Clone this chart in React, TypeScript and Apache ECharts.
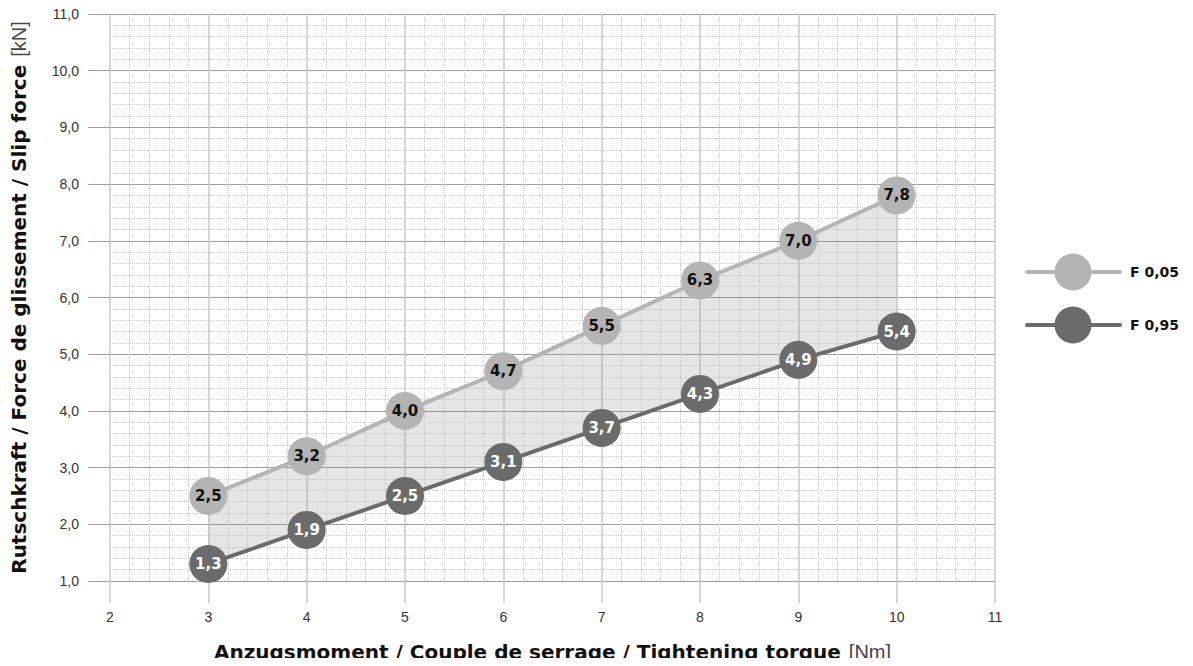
import React, { useEffect, useRef } from "react";
import * as echarts from "echarts";

const torque = [3, 4, 5, 6, 7, 8, 9, 10];
const f005 = [2.5, 3.2, 4.0, 4.7, 5.5, 6.3, 7.0, 7.8];
const f095 = [1.3, 1.9, 2.5, 3.1, 3.7, 4.3, 4.9, 5.4];
const seriesNames = ["F 0,05", "F 0,95"];
const xTitle = "Anzugsmoment / Couple de serrage / Tightening torque";
const xUnit = "[Nm]";
const yTitle = "Rutschkraft / Force de glissement / Slip force";
const yUnit = "[kN]";

const LIGHT = "#b4b4b4";
const DARK = "#6b6b6b";
const FONT = "Liberation Sans, Arial, sans-serif";
const BOLD = "DejaVu Sans, Liberation Sans, sans-serif";

const fmt = (v: number) => v.toFixed(1).replace(".", ",");

export default function App() {
  const ref = useRef<HTMLDivElement>(null);
  useEffect(() => {
    if (!ref.current) return;
    const chart = echarts.init(ref.current, undefined, { renderer: "svg" });
    const lowerPts = torque.map((x, i) => [x, f095[i]]);
    const upperPts = torque.map((x, i) => [x, f005[i]]);
    const bandData = torque.map((x, i) => [x, f095[i], f005[i]]);
    const legendY = [272, 325];
    const legendColors = [LIGHT, DARK];
    const graphic: any[] = [];
    seriesNames.forEach((n, i) => {
      graphic.push({
        type: "line",
        shape: { x1: 1027, y1: legendY[i], x2: 1120, y2: legendY[i] },
        style: { stroke: legendColors[i], lineWidth: 4, lineCap: "round" },
      });
      graphic.push({
        type: "circle",
        shape: { cx: 1073, cy: legendY[i], r: 18.5 },
        style: { fill: legendColors[i] },
      });
      graphic.push({
        type: "text",
        x: 1130,
        y: legendY[i],
        style: {
          text: n,
          fill: "#111",
          font: `bold 14px ${BOLD}`,
          verticalAlign: "middle",
        },
      });
    });
    const nameRich = {
      b: { fontSize: 20, fontWeight: "bold", color: "#111", fontFamily: BOLD },
      n: { fontSize: 20, color: "#444", fontFamily: FONT, padding: [0, 0, 0, 8] },
    };
    chart.setOption({
      animation: false,
      grid: { left: 110, right: 198, top: 14, bottom: 85, outerBoundsMode: "none", containLabel: false },
      textStyle: { fontFamily: FONT },
      xAxis: {
        type: "value",
        min: 2,
        max: 11,
        interval: 1,
        name: `{b|${xTitle}}{n|${xUnit}}`,
        nameLocation: "middle",
        nameGap: 61,
        nameTextStyle: { rich: nameRich },
        axisLine: { show: false },
        axisTick: { show: true, length: 22, lineStyle: { color: "#c8c8c8", width: 1.5 } },
        axisLabel: { margin: 29, fontSize: 14, color: "#333", fontFamily: FONT },
        splitLine: { show: true, lineStyle: { color: "#c8c8c8", width: 1.5 } },
        minorTick: { show: true, splitNumber: 5, length: 0, lineStyle: { opacity: 0 } },
        minorSplitLine: { show: true, lineStyle: { color: "#d0d0d0", type: [1, 1], width: 1 } },
      },
      yAxis: {
        type: "value",
        min: 1,
        max: 11,
        interval: 1,
        name: `{b|${yTitle}}{n|${yUnit}}`,
        nameLocation: "middle",
        nameGap: 81,
        nameRotate: 90,
        nameTextStyle: { rich: nameRich },
        axisLine: { show: false },
        axisTick: { show: true, length: 22, lineStyle: { color: "#9d9d9d", width: 1 } },
        axisLabel: { margin: 31, fontSize: 14, color: "#333", fontFamily: FONT, formatter: fmt },
        splitLine: { show: true, lineStyle: { color: "#9d9d9d", width: 1 } },
        minorTick: { show: true, splitNumber: 5, length: 0, lineStyle: { opacity: 0 } },
        minorSplitLine: { show: true, lineStyle: { color: "#d0d0d0", type: [1, 1], width: 1 } },
      },
      series: [
        {
          type: "custom",
          name: "band",
          data: bandData,
          encode: { x: 0, y: [1, 2] },
          silent: true,
          z: 1,
          renderItem: (params: any, api: any) => {
            if (params.dataIndex !== 0) return null;
            const pts: number[][] = [];
            bandData.forEach((d) => pts.push(api.coord([d[0], d[2]])));
            bandData
              .slice()
              .reverse()
              .forEach((d) => pts.push(api.coord([d[0], d[1]])));
            return {
              type: "polygon",
              shape: { points: pts },
              style: { fill: "rgba(150,150,150,0.25)", stroke: "none" },
            };
          },
        },
        {
          type: "line",
          name: seriesNames[0],
          data: upperPts,
          symbol: "circle",
          symbolSize: 38,
          itemStyle: { color: LIGHT },
          lineStyle: { color: LIGHT, width: 4 },
          label: {
            show: true,
            position: "inside",
            formatter: (p: any) => fmt(p.value[1]),
            color: "#111",
            fontWeight: "bold",
            fontSize: 15,
            fontFamily: BOLD,
          },
          z: 3,
        },
        {
          type: "line",
          name: seriesNames[1],
          data: lowerPts,
          symbol: "circle",
          symbolSize: 38,
          itemStyle: { color: DARK },
          lineStyle: { color: DARK, width: 4 },
          label: {
            show: true,
            position: "inside",
            formatter: (p: any) => fmt(p.value[1]),
            color: "#fff",
            fontWeight: "bold",
            fontSize: 15,
            fontFamily: BOLD,
          },
          z: 3,
        },
      ],
      graphic,
    });
    return () => chart.dispose();
  }, []);
  return <div ref={ref} style={{ width: 1193, height: 666, margin: -8 }} />;
}
